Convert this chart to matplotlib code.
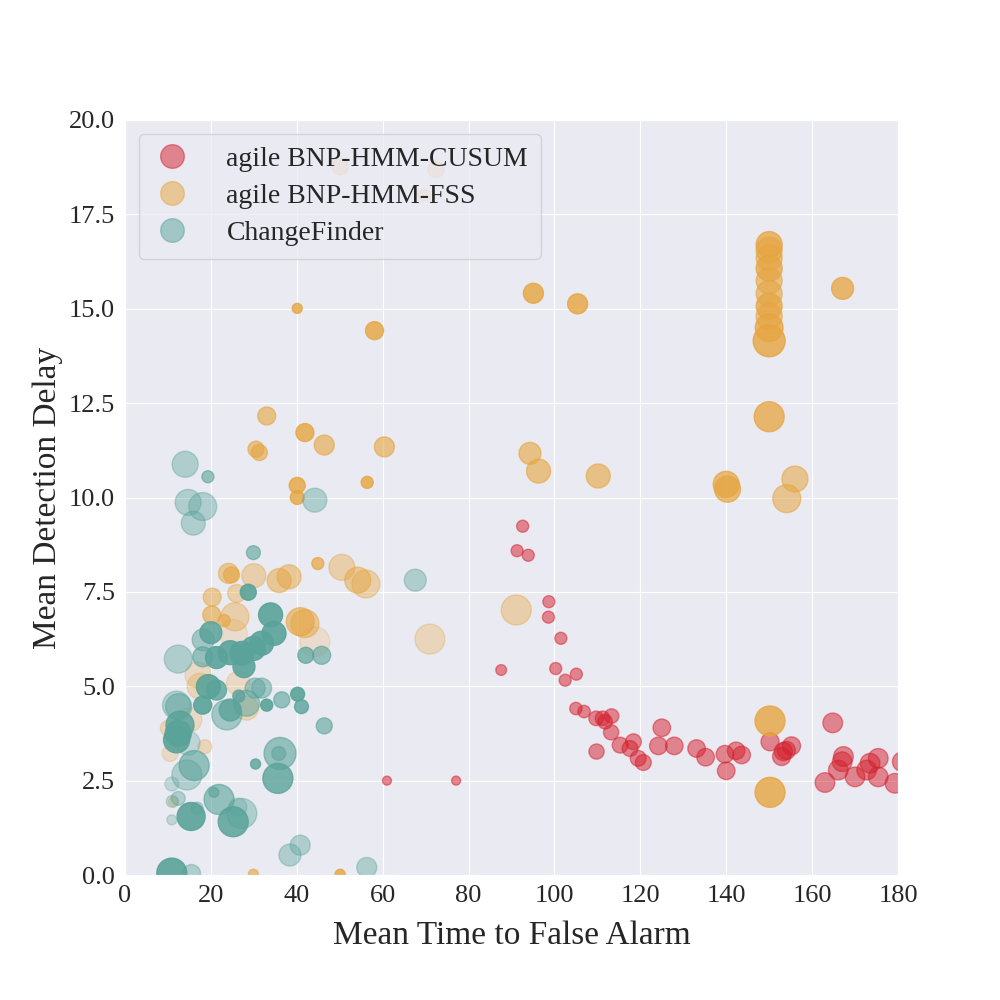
import numpy as np
import matplotlib.pyplot as plt
import seaborn as sns
from matplotlib.lines import Line2D

sns.set_style('darkgrid')
plt.rcParams['font.family'] = ['Liberation Serif', 'DejaVu Serif']

# agile BNP-HMM-CUSUM
cusum_x = [92.6, 91.3, 93.9, 98.7, 98.6, 101.5, 87.6, 100.3, 105.1, 102.5,
           105.0, 106.9, 109.7, 111.2, 113.3, 111.8, 113.2, 109.8, 115.3, 118.4,
           117.6, 119.5, 120.7, 125.0, 124.2, 127.9, 133.1, 135.2, 139.7, 140.0,
           142.3, 143.6, 150.2, 153.3, 155.2, 152.9, 154.0, 164.8, 163.0, 166.1,
           167.3, 167.0, 170.0, 173.5, 175.4, 172.7, 175.4, 179.3, 181.0, 61.0,
           77.1]
cusum_y = [9.24, 8.59, 8.47, 7.24, 6.83, 6.27, 5.43, 5.47, 5.32, 5.16,
           4.41, 4.33, 4.15, 4.15, 4.21, 4.06, 3.78, 3.27, 3.44, 3.53,
           3.35, 3.09, 2.98, 3.90, 3.42, 3.42, 3.35, 3.12, 3.20, 2.76,
           3.29, 3.18, 3.53, 3.27, 3.42, 3.14, 3.30, 4.03, 2.45, 2.78,
           3.14, 3.00, 2.60, 2.96, 3.09, 2.78, 2.60, 2.43, 3.00, 2.50,
           2.50]
cusum_s = [75, 75, 75, 75, 75, 75, 60, 75, 75, 75,
           80, 80, 110, 110, 110, 110, 120, 120, 130, 130,
           130, 130, 130, 160, 160, 160, 160, 160, 160, 160,
           160, 160, 170, 170, 170, 170, 170, 200, 200, 200,
           200, 200, 200, 200, 200, 200, 200, 200, 200, 42,
           42]
cusum_a = [0.5] * len(cusum_x)

# agile BNP-HMM-FSS
fss_x = [33.0, 41.9, 46.4, 30.5, 31.3, 60.4, 40.1, 40.1, 56.4, 24.1,
         24.8, 30.0, 35.9, 38.2, 44.9, 50.5, 54.2, 56.1, 20.3, 26.0,
         20.2, 23.1, 25.6, 40.8, 41.9, 44.2, 25.2, 17.0, 17.5, 26.4,
         28.3, 15.1, 10.1, 18.6, 10.5, 11.3, 29.9, 50.1, 71.0, 50.1,
         72.4, 69.7, 40.1, 58.1, 95.1, 105.4, 94.3, 96.3, 110.2, 91.1,
         150.0, 150.0, 150.0, 150.0, 150.0, 150.0, 150.0, 150.0, 150.0, 150.0,
         150.0, 167.1, 140.0, 140.3, 156.0, 154.1, 150.2, 150.2]
fss_y = [12.16, 11.72, 11.39, 11.28, 11.19, 11.34, 10.32, 10.00, 10.40, 7.99,
         7.95, 7.93, 7.80, 7.90, 8.25, 8.15, 7.81, 7.71, 7.36, 7.46,
         6.89, 6.74, 6.84, 6.71, 6.66, 6.18, 6.40, 5.30, 5.00, 5.08,
         4.42, 4.11, 3.89, 3.40, 3.22, 1.94, 0.02, 0.02, 6.25, 18.76,
         18.69, 18.01, 15.01, 14.42, 15.41, 15.13, 11.17, 10.70, 10.57, 7.02,
         16.70, 16.55, 16.35, 16.07, 15.74, 15.40, 15.07, 14.80, 14.50, 14.15,
         12.14, 15.54, 10.35, 10.22, 10.49, 9.97, 4.08, 2.19]
fss_s = [168, 168, 207, 133, 133, 207, 133, 100, 75, 207,
         133, 298, 298, 298, 75, 350, 350, 406, 168, 168,
         168, 75, 406, 406, 406, 466, 406, 350, 350, 298,
         298, 298, 133, 100, 133, 52, 52, 52, 466, 133,
         133, 75, 52, 168, 207, 207, 250, 298, 298, 466,
         350, 350, 350, 350, 350, 350, 350, 350, 400, 530,
         466, 250, 350, 350, 350, 406, 466, 466]
fss_a = [0.6, 0.8, 0.6, 0.6, 0.6, 0.6, 0.8, 0.8, 0.8, 0.5,
         0.6, 0.4, 0.5, 0.5, 0.7, 0.4, 0.5, 0.4, 0.5, 0.4,
         0.6, 0.6, 0.4, 0.6, 0.5, 0.2, 0.2, 0.25, 0.3, 0.25,
         0.3, 0.25, 0.3, 0.3, 0.25, 0.3, 0.6, 0.8, 0.3, 0.35,
         0.35, 0.3, 0.8, 0.8, 0.8, 0.8, 0.6, 0.6, 0.6, 0.4,
         0.75, 0.6, 0.6, 0.75, 0.6, 0.6, 0.75, 0.6, 0.75, 0.8,
         0.75, 0.75, 0.7, 0.7, 0.55, 0.55, 0.8, 0.8]

# ChangeFinder
cf_x = [14.0, 19.3, 14.7, 18.1, 15.9, 44.2, 29.9, 28.7, 12.4, 33.9,
        34.7, 31.8, 29.9, 27.2, 24.5, 21.3, 27.7, 20.0, 18.2, 18.1,
        42.1, 45.8, 19.4, 21.3, 18.1, 12.0, 12.5, 23.7, 24.5, 28.3,
        30.3, 31.8, 33.0, 26.5, 36.5, 40.2, 41.1, 46.4, 12.8, 12.4,
        12.0, 14.7, 16.1, 14.4, 10.9, 30.4, 36.1, 35.8, 35.6, 12.4,
        11.0, 10.9, 15.4, 16.8, 20.7, 21.9, 25.2, 27.2, 26.3, 40.8,
        38.4, 56.3, 10.9, 15.5, 67.6]
cf_y = [10.88, 10.55, 9.87, 9.76, 9.32, 9.93, 8.54, 7.49, 5.72, 6.89,
        6.40, 6.14, 6.00, 5.87, 5.89, 5.76, 5.52, 6.42, 6.23, 5.78,
        5.82, 5.82, 4.99, 4.90, 4.50, 4.50, 4.46, 4.24, 4.37, 4.55,
        4.95, 4.95, 4.50, 4.74, 4.64, 4.79, 4.46, 3.95, 3.97, 3.75,
        3.58, 3.49, 2.90, 2.65, 2.41, 2.94, 3.22, 3.22, 2.56, 2.03,
        1.95, 1.46, 1.55, 1.77, 2.19, 2.00, 1.41, 1.63, 1.80, 0.79,
        0.53, 0.20, 0.05, 0.04, 7.81]
cf_s = [350, 75, 350, 406, 298, 298, 100, 133, 406, 298,
        298, 298, 298, 298, 298, 250, 250, 250, 250, 207,
        133, 168, 298, 207, 168, 406, 350, 466, 250, 350,
        207, 207, 75, 75, 133, 100, 100, 133, 406, 350,
        350, 298, 466, 466, 100, 52, 530, 100, 466, 100,
        75, 52, 406, 75, 52, 466, 466, 466, 168, 207,
        250, 207, 466, 168, 250]
cf_a = [0.4, 0.6, 0.4, 0.4, 0.4, 0.4, 0.6, 0.9, 0.4, 0.9,
        0.9, 0.9, 0.9, 0.9, 0.9, 0.9, 0.9, 0.85, 0.5, 0.6,
        0.7, 0.6, 0.9, 0.8, 0.9, 0.4, 0.5, 0.5, 0.8, 0.5,
        0.5, 0.5, 0.9, 0.8, 0.6, 0.9, 0.8, 0.6, 0.85, 0.9,
        0.9, 0.3, 0.6, 0.4, 0.3, 0.8, 0.6, 0.5, 0.8, 0.4,
        0.3, 0.3, 0.9, 0.4, 0.6, 0.6, 0.85, 0.4, 0.3, 0.4,
        0.4, 0.4, 0.9, 0.4, 0.4]

labels = ['agile BNP-HMM-CUSUM', 'agile BNP-HMM-FSS', 'ChangeFinder']
colors = ['#D51F2B', '#E6A53F', '#5AA39A']

fig = plt.figure(figsize=(10, 10), dpi=100)
ax = fig.add_axes([0.125, 0.125, 0.773, 0.755])

series = [(cusum_x, cusum_y, cusum_s, cusum_a),
          (fss_x, fss_y, fss_s, fss_a),
          (cf_x, cf_y, cf_s, cf_a)]
for (x, y, s, a), c in zip(series, colors):
    ax.scatter(x, y, s=s, c=c, alpha=np.array(a), linewidths=1.0)

ax.set_xlim(0, 180)
ax.set_ylim(0, 20)
ax.set_xticks(np.arange(0, 181, 20))
ax.set_yticks(np.arange(0, 20.1, 2.5))
ax.set_yticklabels([f'{v:.1f}' for v in np.arange(0, 20.1, 2.5)])
ax.tick_params(labelsize=19)
ax.set_xlabel('Mean Time to False Alarm', fontsize=24, labelpad=10)
ax.set_ylabel('Mean Detection Delay', fontsize=24)

handles = [Line2D([], [], marker='o', linestyle='', markersize=17,
                  markerfacecolor=c, markeredgecolor=c, alpha=0.5)
           for c in colors]
leg = ax.legend(handles, labels, loc='upper left', fontsize=20,
                frameon=True, handlelength=1.5, handletextpad=1.2,
                borderpad=0.45, labelspacing=0.42, borderaxespad=0.5,
                framealpha=0.75)
leg.get_frame().set_edgecolor('#cccccc')

plt.savefig('out.png')
